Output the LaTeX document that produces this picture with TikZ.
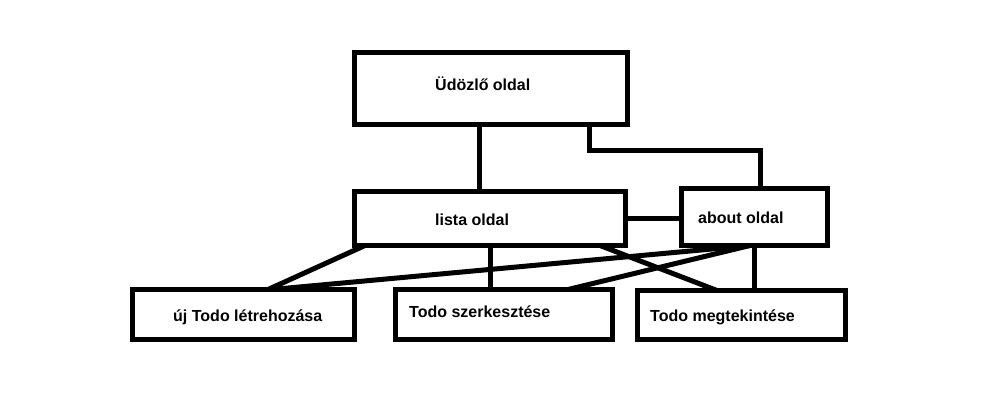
\documentclass[tikz,border=0pt]{standalone}
\usepackage{fontspec}
\setmainfont{Liberation Sans}

\begin{document}
\begin{tikzpicture}[x=1pt,y=-1pt,
  oldal/.style={draw=black,line width=5pt,fill=white,inner sep=0pt,outer sep=0pt},
  felirat/.style={anchor=base west,inner sep=0pt,font=\fontsize{16}{19}\selectfont\bfseries},
  kapcs/.style={draw=black,line width=5pt}]
\fill[white] (0,0) rectangle (990,415);
\useasboundingbox (0,0) rectangle (990,415);
% dobozok
\node[oldal,minimum width=273pt,minimum height=72pt] (udv) at (491,88.5) {};
\node[oldal,minimum width=271pt,minimum height=54pt] (lista) at (490,218.5) {};
\node[oldal,minimum width=146pt,minimum height=57pt] (about) at (754.5,217) {};
\node[oldal,minimum width=222pt,minimum height=50pt] (uj) at (243.5,314.5) {};
\node[oldal,minimum width=217pt,minimum height=50pt] (szerk) at (504,314.5) {};
\node[oldal,minimum width=208pt,minimum height=49pt] (megt) at (741.5,315) {};
% feliratok
\node[felirat] (udvT) at (435,90) {Üdözlő oldal};
\node[felirat] (listaT) at (435,225) {lista oldal};
\node[felirat] (aboutT) at (698,223.3) {about oldal};
\node[felirat] (ujT) at (173,321.7) {új Todo létrehozása};
\node[felirat] (szerkT) at (409,317.3) {Todo szerkesztése};
\node[felirat] (megtT) at (650,321.7) {Todo megtekintése};
% kapcsolatok
\draw[kapcs] ([xshift=-12pt]udv.south) -- ([xshift=-12pt]udv.south |- lista.north);
\draw[kapcs] ([xshift=98pt]udv.south) -- ++(0,26) -| ([xshift=6pt]about.north);
\draw[kapcs] (lista.east) -- (lista.east -| about.west);
\draw[kapcs] ([xshift=10.5pt]lista.south west) -- ([xshift=24.5pt]uj.north);
\draw[kapcs] (lista.south) -- (lista.south |- szerk.north);
\draw[kapcs] ([xshift=-25.5pt]lista.south east) -- ([xshift=-24.5pt]megt.north);
\draw[kapcs] ([xshift=-4.5pt]about.south) -- ([xshift=28.5pt]uj.north);
\draw[kapcs] ([xshift=-4.5pt]about.south) -- ([xshift=64pt]szerk.north);
\draw[kapcs] (about.south) -- (about.south |- megt.north);
\end{tikzpicture}
\end{document}
